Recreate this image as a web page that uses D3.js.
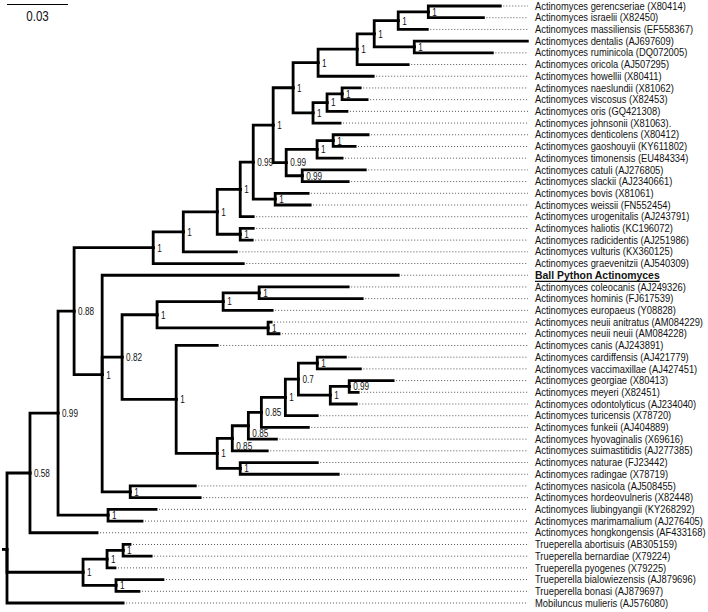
<!DOCTYPE html>
<html>
<head>
<meta charset="utf-8">
<script src="https://cdn.jsdelivr.net/npm/d3@7/dist/d3.min.js"></script>
<style>
  html, body { margin: 0; padding: 0; background: #fff; }
  svg { display: block; }
</style>
</head>
<body>
<svg id="chart" width="708" height="612"></svg>
<script>
// ---- DATA (pre-order listing; sibling order = drawing order top→bottom) ----
const nodeNames = [
  "root","n058","n099","n088","a13","a12","a11","a10","a9","a8","a7","a6","a5","a4","a2","a1",
  "Actinomyces gerencseriae (X80414)","Actinomyces israelii (X82450)","Actinomyces massiliensis (EF558367)",
  "a3","Actinomyces dentalis (AJ697609)","Actinomyces ruminicola (DQ072005)",
  "Actinomyces oricola (AJ507295)","Actinomyces howellii (X80411)",
  "b3","b2","b1","Actinomyces naeslundii (X81062)","Actinomyces viscosus (X82453)",
  "Actinomyces oris (GQ421308)","Actinomyces johnsonii (X81063).",
  "c4","c2","c1","Actinomyces denticolens (X80412)","Actinomyces gaoshouyii (KY611802)",
  "Actinomyces timonensis (EU484334)",
  "c3","Actinomyces catuli (AJ276805)","Actinomyces slackii (AJ2340661)",
  "d1","Actinomyces bovis (X81061)","Actinomyces weissii (FN552454)",
  "Actinomyces urogenitalis (AJ243791)",
  "e1","Actinomyces haliotis (KC196072)","Actinomyces radicidentis (AJ251986)",
  "Actinomyces vulturis (KX360125)","Actinomyces graevenitzii (AJ540309)",
  "p1","Ball Python Actinomyces",
  "q","s","s1","s2","Actinomyces coleocanis (AJ249326)","Actinomyces hominis (FJ617539)",
  "Actinomyces europaeus (Y08828)",
  "nu","Actinomyces neuii anitratus (AM084229)","Actinomyces neuii neuii (AM084228)",
  "t","Actinomyces canis (AJ243891)",
  "u","v","v1","v2","v3","v4","v5","Actinomyces cardiffensis (AJ421779)","Actinomyces vaccimaxillae (AJ427451)",
  "v6","v7","Actinomyces georgiae (X80413)","Actinomyces meyeri (X82451)",
  "Actinomyces odontolyticus (AJ234040)","Actinomyces turicensis (X78720)",
  "Actinomyces funkeii (AJ404889)","Actinomyces hyovaginalis (X69616)",
  "Actinomyces suimastitidis (AJ277385)",
  "w","Actinomyces naturae (FJ23442)","Actinomyces radingae (X78719)",
  "r","Actinomyces nasicola (AJ508455)","Actinomyces hordeovulneris (X82448)",
  "x","Actinomyces liubingyangii (KY268292)","Actinomyces marimamalium (AJ276405)",
  "Actinomyces hongkongensis (AF433168)",
  "tr","tr1","tr3","Trueperella abortisuis (AB305159)","Trueperella bernardiae (X79224)",
  "Trueperella pyogenes (X79225)",
  "tr2","Trueperella bialowiezensis (AJ879696)","Trueperella bonasi (AJ879697)",
  "Mobiluncus mulieris (AJ576080)"
];
const nodeParents = [
  null,"root","n058","n099","n088","a13","a12","a11","a10","a9","a8","a7","a6","a5","a4","a2",
  "a1","a1","a2",
  "a4","a3","a3",
  "a5","a6",
  "a7","b3","b2","b1","b1",
  "b2","b3",
  "a8","c4","c2","c1","c1",
  "c2",
  "c4","c3","c3",
  "a9","d1","d1",
  "a10",
  "a11","e1","e1",
  "a12","a13",
  "n088","p1",
  "p1","q","s","s1","s2","s2",
  "s1",
  "s","nu","nu",
  "q","t",
  "t","u","v","v1","v2","v3","v4","v5","v5",
  "v4","v6","v7","v7",
  "v6","v3",
  "v2","v1",
  "v",
  "u","w","w",
  "p1","r","r",
  "n099","x","x",
  "n058",
  "root","tr","tr1","tr3","tr3",
  "tr1",
  "tr","tr2","tr2",
  "root"
];
const branchLengths = [
  0,0.0113,0.0138,0.0079,0.0389,0.0148,0.0167,0.0113,0.0064,0.0098,0.0098,0.0123,0.0192,0.0084,0.0118,0.0148,
  0.0354,0.0271,0.0143,
  0.0197,0.0556,0.0384,
  0.0251,0.0271,
  0.0098,0.0069,0.0074,0.0089,0.0123,
  0.0098,0.0133,
  0.0064,0.0152,0.0079,0.0172,0.0108,
  0.0123,
  0.0079,0.0310,0.0226,
  0.0108,0.0162,0.0172,
  0.0064,
  0.0113,0.0064,0.0059,
  0.0261,0.0443,
  0.0138,0.1456,
  0.0098,0.0172,0.0325,0.0177,0.0438,0.0507,
  0.0241,
  0.0546,0.0015,0.0054,
  0.0266,0.0202,
  0.0202,0.0074,0.0079,0.0064,0.0118,0.0064,0.0093,0.0138,0.0212,
  0.0157,0.0093,0.0216,0.0044,
  0.0128,0.0157,
  0.0231,0.0138,
  0.0172,
  0.0113,0.0379,0.0482,
  0.0138,0.0320,0.0344,
  0.0246,0.0236,0.0167,
  0.0330,
  0.0374,0.0118,0.0079,0.0034,0.0138,
  0.0039,
  0.0162,0.0231,0.0113,
  0.0571
];
const nodeSupports = [
  "","0.58","0.99","0.88","1","1","1","1","0.99","1","1","1","1","1","1","1",
  "","","",
  "1","","",
  "","",
  "1","1","1","","",
  "","",
  "0.99","1","1","","",
  "",
  "0.99","","",
  "1","","",
  "",
  "1","","",
  "","",
  "1","",
  "0.82","1","1","1","","",
  "",
  "1","","",
  "1","",
  "1","0.85","0.85","0.85","1","0.7","1","","",
  "1","0.99","","",
  "","",
  "","",
  "",
  "1","","",
  "1","","",
  "1","","",
  "",
  "1","1","1","","",
  "",
  "1","","",
  ""
];
const scaleBarValue = 0.03;
const scaleBarLabel = "0.03";
const highlightTaxon = "Ball Python Actinomyces";

// ---- LAYOUT ----
const svg = d3.select("#chart");
const rows = nodeNames.map((id, i) => ({id, parent: nodeParents[i], len: branchLengths[i], sup: nodeSupports[i]}));
const root = d3.stratify().id(d => d.id).parentId(d => d.parent)(rows);

root.eachBefore(n => { n.dist = n.parent ? n.parent.dist + n.data.len : 0; });
const leaves = root.leaves();

const xScale = d3.scaleLinear().domain([0, 0.03]).range([7, 68]);
const yScale = d3.scalePoint().domain(leaves.map(d => d.id)).range([6, 603]);

root.eachAfter(n => {
  n.px = xScale(n.dist);
  if (!n.children) n.py = yScale(n.id);
  else n.py = d3.mean(n.children, c => c.py);
});

const labelX = 535;
const leaderEnd = 528;
const labelNudge = {v: 8, v1: 7};

// leader dotted lines
svg.append("g")
  .selectAll("line")
  .data(leaves.filter(d => d.px < leaderEnd - 3))
  .join("line")
  .attr("x1", d => d.px + 3)
  .attr("x2", leaderEnd)
  .attr("y1", d => d.py)
  .attr("y2", d => d.py)
  .attr("stroke", "#555")
  .attr("stroke-width", 1)
  .attr("stroke-dasharray", "1,2");

// branches (elbows)
svg.append("g")
  .selectAll("path")
  .data(root.links())
  .join("path")
  .attr("d", l => `M${l.source.px},${l.source.py}V${l.target.py}H${l.target.px}`)
  .attr("fill", "none")
  .attr("stroke", "#000")
  .attr("stroke-width", 2.8)
  .attr("stroke-linecap", "square")
  .attr("stroke-linejoin", "miter");

// root stub
svg.append("line")
  .attr("x1", 2).attr("x2", root.px)
  .attr("y1", root.py).attr("y2", root.py)
  .attr("stroke", "#000").attr("stroke-width", 2.8);

// support values
svg.append("g")
  .selectAll("text")
  .data(root.descendants().filter(d => d.children && d.data.sup))
  .join("text")
  .attr("transform", d => `translate(${d.px + 4},${d.py + (labelNudge[d.id] || 0)}) scale(0.78,1)`)
  .attr("dominant-baseline", "central")
  .attr("font-family", "Liberation Sans, Arial, sans-serif")
  .attr("font-size", 10.5)
  .attr("fill", "#111")
  .text(d => d.data.sup);

// taxon labels
const isHi = d => d.id === highlightTaxon;
const labels = svg.append("g")
  .selectAll("g")
  .data(leaves)
  .join("g")
  .attr("transform", d => `translate(${labelX},${d.py}) scale(${isHi(d) ? 0.9 : 0.91},1)`);

labels.append("text")
  .attr("dominant-baseline", "central")
  .attr("font-family", "Liberation Sans, Arial, sans-serif")
  .attr("font-size", d => isHi(d) ? 11.6 : 10.3)
  .attr("font-weight", d => isHi(d) ? "bold" : "normal")
  .attr("fill", "#111")
  .text(d => d.id);

// underline for the highlighted taxon
labels.filter(isHi).each(function() {
  const g = d3.select(this);
  const w = g.select("text").node().getComputedTextLength();
  g.append("line")
    .attr("x1", 0).attr("x2", w)
    .attr("y1", 6.2).attr("y2", 6.2)
    .attr("stroke", "#111").attr("stroke-width", 1.3);
});

// scale bar
const sb = svg.append("g");
sb.append("line")
  .attr("x1", xScale(0)).attr("x2", xScale(scaleBarValue))
  .attr("y1", 4.5).attr("y2", 4.5)
  .attr("stroke", "#000").attr("stroke-width", 1.2);
sb.append("text")
  .attr("transform", `translate(${(xScale(0) + xScale(scaleBarValue)) / 2},16) scale(0.8,1)`)
  .attr("text-anchor", "middle")
  .attr("dominant-baseline", "central")
  .attr("font-family", "Liberation Sans, Arial, sans-serif")
  .attr("font-size", 14.5)
  .attr("fill", "#111")
  .text(scaleBarLabel);
</script>
</body>
</html>
